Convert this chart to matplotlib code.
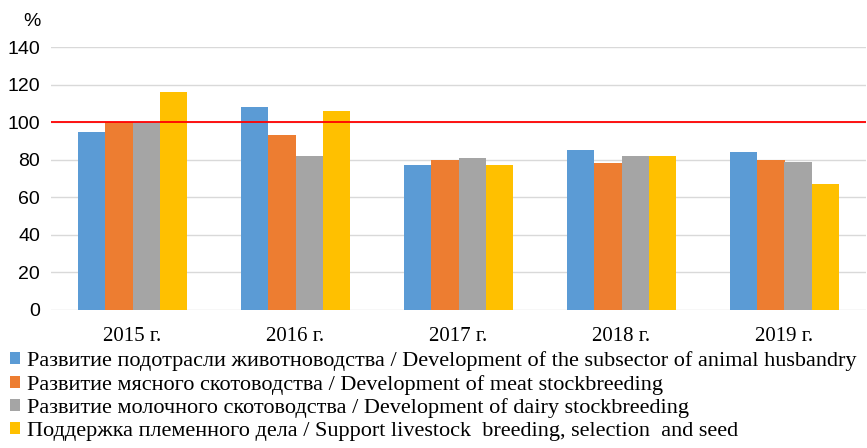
import matplotlib
matplotlib.use("Agg")
import matplotlib.pyplot as plt
import numpy as np
from matplotlib.patches import Patch

# data
years = ["2015 г.", "2016 г.", "2017 г.", "2018 г.", "2019 г."]
series_names = [
    "Развитие подотрасли животноводства / Development of the subsector of animal husbandry",
    "Развитие мясного скотоводства / Development of meat stockbreeding",
    "Развитие молочного скотоводства / Development of dairy stockbreeding",
    "Поддержка племенного дела / Support livestock  breeding, selection  and seed",
]
animal_husbandry = [95, 108, 77, 85, 84]
meat_breeding = [100, 93, 80, 78, 80]
dairy_breeding = [100, 82, 81, 82, 79]
pedigree_support = [116, 106, 77, 82, 67]
reference_level = 100

colors = ["#5B9BD5", "#ED7D31", "#A5A5A5", "#FFC000"]

fig = plt.figure(figsize=(8.67, 4.48), dpi=100)
ax = fig.add_axes([51 / 867, 138 / 448, 815 / 867, 263 / 448])

x = np.arange(len(years))
width = 0.168
all_series = [animal_husbandry, meat_breeding, dairy_breeding, pedigree_support]
for i, vals in enumerate(all_series):
    ax.bar(x + (i - 1.5) * width, vals, width, color=colors[i], zorder=2)

# red 100% reference line
ax.axhline(reference_level, color="#FF0000", linewidth=1.3, zorder=3)

ax.set_xlim(-0.5, len(years) - 0.5)
ax.set_ylim(0, 140)
ax.set_yticks(range(0, 141, 20))
ax.grid(axis="y", color="#D9D9D9", linewidth=1, zorder=0)
for s in ax.spines.values():
    s.set_visible(False)
ax.tick_params(length=0)
ax.tick_params(axis="y", labelsize=14, pad=8)
for lab in ax.get_yticklabels():
    lab.set_fontfamily("Liberation Sans")
ax.set_xticks(x)
ax.set_xticklabels(years, fontfamily="Liberation Serif", fontsize=15)
ax.tick_params(axis="x", pad=12)

fig.text(32 / 867, 1 - 22 / 448, "%", fontsize=14, ha="center", va="center",
         fontfamily="Liberation Sans")

handles = [Patch(facecolor=c) for c in colors]
fig.legend(handles, series_names, loc="upper left", bbox_to_anchor=(10 / 867, 1 - 351 / 448),
           frameon=False, prop={"family": "Liberation Serif", "size": 16.0},
           handlelength=0.45, handleheight=0.45, handletextpad=0.3,
           labelspacing=0.17, borderaxespad=0, borderpad=0)

fig.savefig("out.png", dpi=100)
